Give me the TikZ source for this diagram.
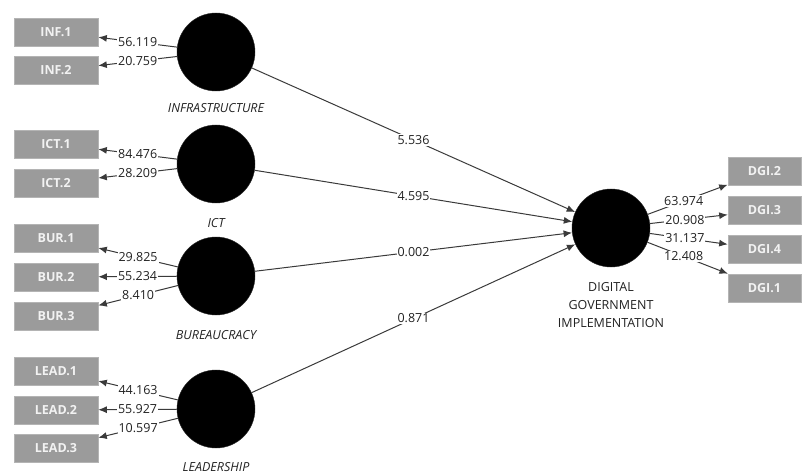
\documentclass[tikz,border=0pt]{standalone}
\usepackage{fontspec}
\setmainfont{Open Sans}
\usetikzlibrary{arrows.meta}
\definecolor{boxgray}{HTML}{9B9B9B}
\definecolor{boxedge}{HTML}{B4B4B4}
\definecolor{linegray}{HTML}{3A3A3A}
\definecolor{numtext}{HTML}{222222}
\tikzset{
  lv/.style={circle, fill=black, draw=black!85, minimum size=78pt, inner sep=0pt},
  lvlabel/.style={font=\fontsize{12.5}{14}\selectfont\itshape, text=numtext, inner sep=0pt},
  dgilabel/.style={font=\fontsize{12.5}{18}\selectfont, text=numtext, align=center, inner sep=0pt},
  mv/.style={rectangle, fill=boxgray, draw=boxedge, line width=0.6pt, minimum width=84pt, minimum height=28pt, inner sep=0pt, text=white!95!black, font=\fontsize{12.5}{14}\selectfont\bfseries},
  mvr/.style={mv, minimum width=73pt},
  ind/.style={draw=linegray, line width=1pt, -{Latex[length=8.5pt,width=7pt]}},
  num/.style={fill=white, inner sep=1pt, text=numtext, font=\fontsize{12.5}{14}\selectfont},
}
\begin{document}
\begin{tikzpicture}[x=1pt,y=-1pt]
\useasboundingbox (0,0) rectangle (803,473);
\clip (0,0) rectangle (803,473);
% latent variables
\node[lv] (inf) at (216,52) {};
\node[lv] (ict) at (216,164) {};
\node[lv] (bur) at (216,276) {};
\node[lv] (lead) at (216,409) {};
\node[lv] (dgi) at (611,228) {};
% latent labels
\node[lvlabel] (infl) at (216,108) {INFRASTRUCTURE};
\node[lvlabel] (ictl) at (216,223) {ICT};
\node[lvlabel] (burl) at (216,335) {BUREAUCRACY};
\node[lvlabel] (leadl) at (216,467) {LEADERSHIP};
\node[dgilabel, anchor=north] (dgil) at (611,282) {DIGITAL\\GOVERNMENT\\IMPLEMENTATION};
% indicators
\node[mv] (inf1) at (56,32) {INF.1};
\node[mv] (inf2) at (56,70.5) {INF.2};
\node[mv] (ict1) at (56,144) {ICT.1};
\node[mv] (ict2) at (56,183) {ICT.2};
\node[mv] (bur1) at (56,238) {BUR.1};
\node[mv] (bur2) at (56,277) {BUR.2};
\node[mv] (bur3) at (56,316) {BUR.3};
\node[mv] (lead1) at (56,371) {LEAD.1};
\node[mv] (lead2) at (56,410) {LEAD.2};
\node[mv] (lead3) at (56,448) {LEAD.3};
\node[mvr] (dgi2) at (764.5,171) {DGI.2};
\node[mvr] (dgi3) at (764.5,210.5) {DGI.3};
\node[mvr] (dgi4) at (764.5,249.5) {DGI.4};
\node[mvr] (dgi1) at (764.5,288) {DGI.1};
% outer loadings
\draw[ind] (inf) -- node[num] (l1) {56.119} (inf1);
\draw[ind] (inf) -- node[num] (l2) {20.759} (inf2);
\draw[ind] (ict) -- node[num] (l3) {84.476} (ict1);
\draw[ind] (ict) -- node[num] (l4) {28.209} (ict2);
\draw[ind] (bur) -- node[num] (l5) {29.825} (bur1);
\draw[ind] (bur) -- node[num] (l6) {55.234} (bur2);
\draw[ind] (bur) -- node[num] (l7) {8.410} (bur3);
\draw[ind] (lead) -- node[num] (l8) {44.163} (lead1);
\draw[ind] (lead) -- node[num] (l9) {55.927} (lead2);
\draw[ind] (lead) -- node[num] (l10) {10.597} (lead3);
\draw[ind] (dgi) -- node[num, pos=0.45] (l11) {63.974} (dgi2);
\draw[ind] (dgi) -- node[num, pos=0.45] (l12) {20.908} (dgi3);
\draw[ind] (dgi) -- node[num, pos=0.45] (l13) {31.137} (dgi4);
\draw[ind] (dgi) -- node[num, pos=0.45] (l14) {12.408} (dgi1);
% inner paths
\draw[ind] (inf) -- node[num] (p1) {5.536} (dgi);
\draw[ind] (ict) -- node[num] (p2) {4.595} (dgi);
\draw[ind] (bur) -- node[num] (p3) {0.002} (dgi);
\draw[ind] (lead) -- node[num] (p4) {0.871} (dgi);
\end{tikzpicture}
\end{document}
